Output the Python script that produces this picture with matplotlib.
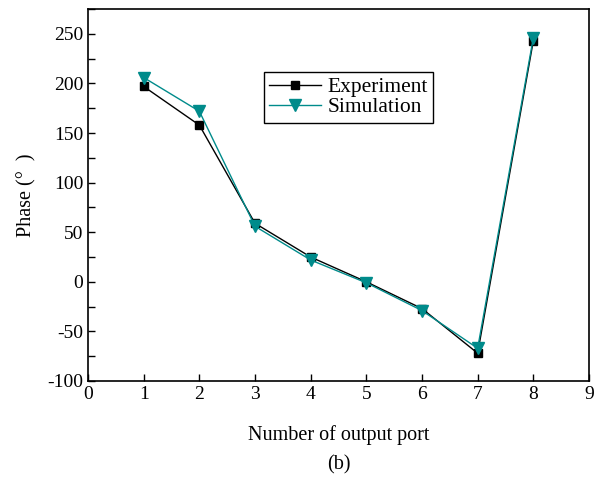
import numpy as np
import matplotlib.pyplot as plt
from matplotlib.ticker import MultipleLocator

plt.rcParams['font.family'] = ['Liberation Serif', 'DejaVu Serif']
plt.rcParams['axes.unicode_minus'] = False

ports = [1, 2, 3, 4, 5, 6, 7, 8]
experiment = [197, 158, 59, 25, 0, -27, -72, 243]
simulation = [206, 172, 56, 22, -1, -29, -67, 246]

fig = plt.figure(figsize=(6.05, 4.79), dpi=100)
ax = fig.add_axes([0.1455, 0.2046, 0.828, 0.7764])

ax.plot(ports, experiment, color='black', lw=1, marker='s', ms=6, label='Experiment')
ax.plot(ports, simulation, color='#008b8b', lw=1, marker='v', ms=8, label='Simulation')

ax.set_xlim(0, 9)
ax.set_ylim(-100, 275)
ax.xaxis.set_major_locator(MultipleLocator(1))
ax.yaxis.set_major_locator(MultipleLocator(50))
ax.yaxis.set_minor_locator(MultipleLocator(25))
ax.tick_params(which='both', direction='in', top=False, right=False, labelsize=14)
ax.tick_params(which='major', length=5, width=1)
ax.tick_params(which='minor', length=5, width=1)
for s in ax.spines.values():
    s.set_linewidth(1.2)

ax.set_ylabel('Phase (°  )', fontsize=14.5, labelpad=8)
ax.set_xlabel('Number of output port', fontsize=14.5, labelpad=16)
fig.text(0.5 * (0.1455 + 0.9736), 1 - 465 / 479, '(b)', ha='center', va='center', fontsize=14.5)

leg = ax.legend(loc='upper left', bbox_to_anchor=(0.33, 0.86), fontsize=15.5,
                fancybox=False, edgecolor='black', framealpha=1,
                handlelength=2.4, borderpad=0.25, labelspacing=0.0, handletextpad=0.3)
leg.get_frame().set_linewidth(1)

fig.savefig('out.png', dpi=100)
